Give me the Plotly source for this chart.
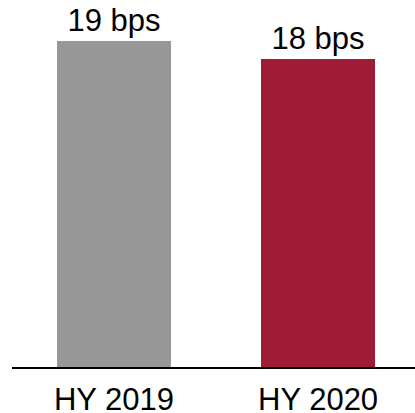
import plotly.graph_objects as go

periods = ["HY 2019", "HY 2020"]
spread_bps = [19, 18]
bar_colors = ["#979797", "#9F1C37"]
value_labels = [f"{v} bps" for v in spread_bps]

fig = go.Figure(
    go.Bar(
        x=periods,
        y=spread_bps,
        marker=dict(color=bar_colors, line=dict(width=0)),
        width=0.555,
        text=value_labels,
        textposition="outside",
        textfont=dict(family="Liberation Sans, Arial", size=31, color="#000000"),
        cliponaxis=False,
    )
)

fig.update_layout(
    width=415,
    height=413,
    margin=dict(l=12, r=0, t=0, b=46, autoexpand=False),
    paper_bgcolor="white",
    plot_bgcolor="white",
    showlegend=False,
    font=dict(family="Liberation Sans, Arial", size=31, color="#000000"),
    bargap=0,
)

fig.update_xaxes(
    range=[-0.5, 1.475],
    showline=True,
    linecolor="#000000",
    linewidth=1.7,
    ticks="",
    ticklabelstandoff=4,
    automargin=False,
    showgrid=False,
    zeroline=False,
    tickfont=dict(family="Liberation Sans, Arial", size=31, color="#000000"),
)
fig.update_yaxes(
    range=[0, 21.42],
    visible=False,
    showgrid=False,
    zeroline=False,
)

fig.write_html("out.html")
